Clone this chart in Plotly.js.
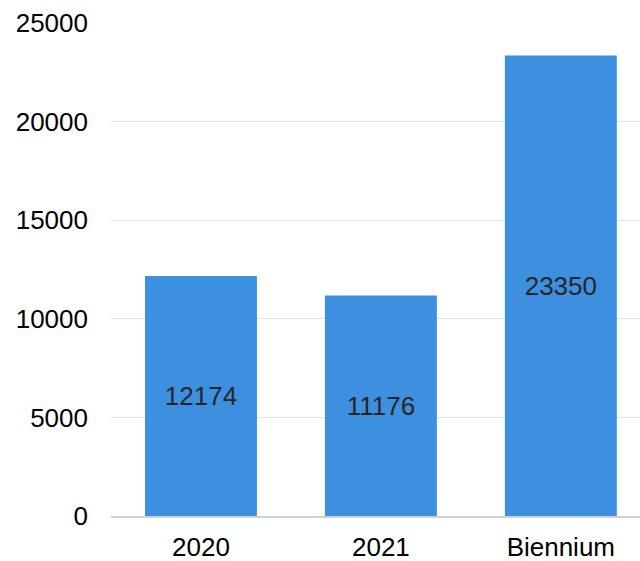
<!DOCTYPE html>
<html>
<head>
<meta charset="utf-8">
<script src="https://cdn.plot.ly/plotly-3.0.1.min.js"></script>
<style>html,body{margin:0;padding:0;background:#fff;}#chart{width:640px;height:561px;}</style>
</head>
<body>
<div id="chart"></div>
<script>
const categories = ["2020", "2021", "Biennium"];
const values = [12174, 11176, 23350];
const yTicks = [0, 5000, 10000, 15000, 20000, 25000];

const trace = {
  type: "bar",
  x: categories,
  y: values,
  text: values.map(String),
  textposition: "inside",
  insidetextanchor: "middle",
  textangle: 0,
  textfont: {family: "Liberation Sans, Arial, sans-serif", size: 26, color: "#262626"},
  marker: {color: "#3d8fdf"},
  hoverinfo: "none"
};

const layout = {
  width: 640, height: 561,
  margin: {l: 111, r: 0, t: 23, b: 45},
  paper_bgcolor: "#fff", plot_bgcolor: "#fff",
  showlegend: false,
  bargap: 0.378,
  font: {family: "Liberation Sans, Arial, sans-serif", size: 26, color: "#000"},
  xaxis: {
    type: "category",
    range: [-0.5, 2.44],
    showgrid: false,
    showline: true, linecolor: "#d0d0d0", linewidth: 2,
    ticks: "", ticklabelstandoff: 7,
    tickfont: {size: 26, color: "#000"}
  },
  yaxis: {
    range: [0, 25000],
    tickvals: yTicks,
    ticktext: yTicks.map(String),
    showgrid: true, gridcolor: "#e6e6e6", gridwidth: 1,
    zeroline: false, showline: false,
    ticks: "", ticklabelstandoff: 22,
    tickfont: {size: 26, color: "#000"}
  }
};

Plotly.newPlot("chart", [trace], layout, {displayModeBar: false, staticPlot: true});
</script>
</body>
</html>
